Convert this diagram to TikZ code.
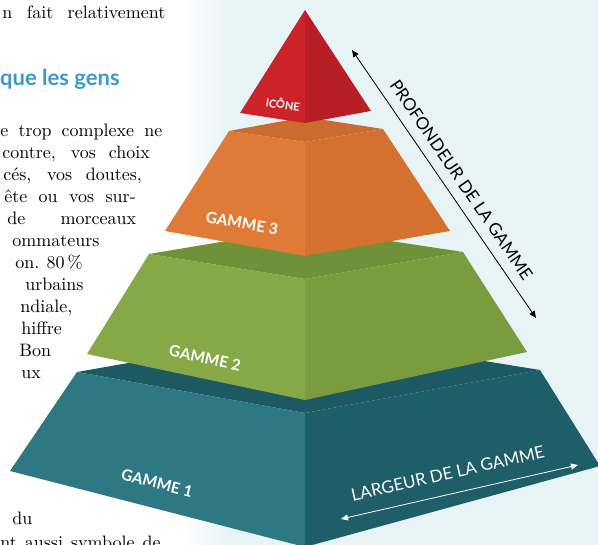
\documentclass[tikz,border=0pt]{standalone}
\usepackage{fontspec}
\newfontfamily\latofont{Lato}
\usepackage{xcolor}
\usetikzlibrary{arrows.meta, calc, positioning}

\definecolor{paperblue}{HTML}{E8F3F6}
\definecolor{headblue}{HTML}{3A9BC9}
\definecolor{iconL}{HTML}{CC2329}
\definecolor{iconR}{HTML}{B71E26}
\definecolor{orTop}{HTML}{CB6B30}
\definecolor{orL}{HTML}{E07B37}
\definecolor{orR}{HTML}{D4712F}
\definecolor{grTop}{HTML}{6E9139}
\definecolor{grL}{HTML}{86A846}
\definecolor{grR}{HTML}{7A9C3E}
\definecolor{tlTop}{HTML}{1D5962}
\definecolor{tlL}{HTML}{2E7884}
\definecolor{tlR}{HTML}{1E5E68}

\begin{document}
\begin{tikzpicture}[x=1pt, y=-1pt,
    bodyline/.style={anchor=base west, inner sep=0pt, scale=1.8, font=\fontsize{10}{12}\selectfont},
    tierlbl/.style={text=white, inner sep=0pt, font=\latofont\bfseries\fontsize{15.5}{15.5}\selectfont},
    dimlbl/.style={inner sep=0pt, font=\latofont\fontsize{17}{17}\selectfont},
    dimarrow/.style={line width=0.8pt, {Triangle[length=7pt,width=6pt]}-{Triangle[length=7pt,width=6pt]}}]

\useasboundingbox (0,0) rectangle (598,545);
\clip (0,0) rectangle (598,545);

% Page and tinted panel
\fill[white] (0,0) rectangle (598,545);
\shade[left color=white, right color=paperblue] (185,0) rectangle (228,545);
\fill[paperblue] (228,0) rectangle (598,545);

% Text column (box widths are before the 1.8 scaling)
\node[bodyline] (t1) at (2,19) {\makebox[90.5pt][s]{n fait relativement}};
\node[anchor=base west, inner sep=0pt, text=headblue, font=\latofont\bfseries\fontsize{22}{22}\selectfont] (head) at (0,86) {que les gens};
\node[bodyline] (t2) at (0,137) {\makebox[90pt][s]{e trop complexe ne}};
\node[bodyline] (t3) at (2,159) {\makebox[82pt][s]{contre, vos choix}};
\node[bodyline] (t4) at (3,181) {\makebox[77pt][s]{cés, vos doutes,}};
\node[bodyline] (t5) at (4,203) {\makebox[73pt][s]{ête ou vos sur-}};
\node[bodyline] (t6) at (7,225) {\makebox[71.5pt][s]{de morceaux}};
\node[bodyline] (t7) at (12,247) {ommateurs};
\node[bodyline] (t8) at (15,269) {\makebox[35pt][s]{on. 80\,\%}};
\node[bodyline] (t9) at (25,291) {urbains};
\node[bodyline] (t10) at (20,313) {ndiale,};
\node[bodyline] (t11) at (21,335) {hiffre};
\node[bodyline] (t12) at (19,357) {Bon};
\node[bodyline] (t13) at (21,379) {ux};
\node[bodyline] (t14) at (12,525) {du};
\node[bodyline] (t15) at (0,549) {\makebox[89pt][s]{nt aussi symbole de}};

% Pyramid corners: L = left, F = front, R = right, B = back (t = top, b = bottom)
\coordinate (apex) at (305,10);
\coordinate (iL) at (240,113);
\coordinate (iF) at (305,123);
\coordinate (iR) at (371,111);

\coordinate (oLt) at (229,131);
\coordinate (oBt) at (305,117);
\coordinate (oRt) at (383,129);
\coordinate (oFt) at (305,142);
\coordinate (oLb) at (165,231);
\coordinate (oFb) at (305,256);
\coordinate (oRb) at (450,231);

\coordinate (gLt) at (149,254);
\coordinate (gBt) at (305,228);
\coordinate (gRt) at (463,252);
\coordinate (gFt) at (305,279);
\coordinate (gLb) at (87,354);
\coordinate (gFb) at (305,400);
\coordinate (gRb) at (527,352);

\coordinate (tLt) at (77,372);
\coordinate (tBt) at (305,332);
\coordinate (tRt) at (540,370);
\coordinate (tFt) at (305,413);
\coordinate (tLb) at (10,471);
\coordinate (tFb) at (305,547);
\coordinate (tRb) at (600,466);

% Gamme 1
\fill[tlTop] (tLt) -- (tBt) -- (tRt) -- (tFt) -- cycle;
\fill[tlL] (tLt) -- (tFt) -- (tFb) -- (tLb) -- cycle;
\fill[tlR] (tFt) -- (tRt) -- (tRb) -- (tFb) -- cycle;

% Gamme 2
\fill[grTop] (gLt) -- (gBt) -- (gRt) -- (gFt) -- cycle;
\fill[grL] (gLt) -- (gFt) -- (gFb) -- (gLb) -- cycle;
\fill[grR] (gFt) -- (gRt) -- (gRb) -- (gFb) -- cycle;

% Gamme 3
\fill[orTop] (oLt) -- (oBt) -- (oRt) -- (oFt) -- cycle;
\fill[orL] (oLt) -- (oFt) -- (oFb) -- (oLb) -- cycle;
\fill[orR] (oFt) -- (oRt) -- (oRb) -- (oFb) -- cycle;

% Icone
\fill[iconL] (apex) -- (iL) -- (iF) -- cycle;
\fill[iconR] (apex) -- (iF) -- (iR) -- cycle;

% Tier names
\node[tierlbl, rotate=-8, font=\latofont\bfseries\fontsize{11}{11}\selectfont] (icone) at (283,104) {ICÔNE};
\node[tierlbl, rotate=-10] (g3) at (242,223) {GAMME 3};
\node[tierlbl, rotate=-12] (g2) at (205,358) {GAMME 2};
\node[tierlbl, rotate=-14] (g1) at (157,483) {GAMME 1};

% Depth and width arrows
\coordinate (dTop) at (352,50);
\coordinate (dBot) at (536,318);
\draw[dimarrow] (dTop) -- node[dimlbl, sloped, above=10pt, pos=0.52] (depth) {PROFONDEUR DE LA GAMME} (dBot);

\coordinate (wL) at (341,519);
\coordinate (wR) at (578,465);
\draw[dimarrow, white] (wL) -- node[dimlbl, text=white, sloped, above=14pt, pos=0.47] (width) {LARGEUR DE LA GAMME} (wR);
\end{tikzpicture}
\end{document}
